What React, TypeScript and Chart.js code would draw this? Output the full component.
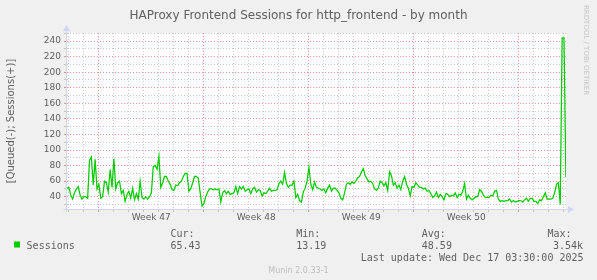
import React, { useEffect, useRef } from 'react';
import { Chart, registerables } from 'chart.js';

Chart.register(...registerables);

// ---------- data ----------
const TITLE = 'HAProxy Frontend Sessions for http_frontend - by month';
const Y_LABEL = '[Queued(-); Sessions(+)]';
const SERIES_NAME = 'Sessions';
// x in days since Sun 16 Nov 2025 00:00
const X_MIN_DAY = -2.112;
const X_MAX_DAY = 31.146;
const STEP_DAYS = 0.125; // 3 hours per sample
const WEEK_START_DAYS = [0, 7, 14, 21, 28];
const WEEK_LABEL_DAYS = [3.5, 10.5, 17.5, 24.5];
const WEEK_LABELS = ['Week 47', 'Week 48', 'Week 49', 'Week 50'];
const Y_MIN = 24.2;
const Y_MAX = 250.4;
const Y_TICKS = [30, 40, 50, 60, 70, 80, 90, 100, 110, 120, 130, 140, 150, 160, 170, 180, 190, 200, 210, 220, 230, 240, 250];
const Y_LABELED = [40, 60, 80, 100, 120, 140, 160, 180, 200, 220, 240];

const SESSIONS = [
  51, 52, 42, 37, 45, 50, 53, 42, 37, 40,
  40, 38, 87, 91, 55, 88, 50, 56, 38, 40,
  60, 58, 46, 75, 52, 89, 50, 58, 60, 44,
  48, 34, 43, 47, 38, 51, 36, 44, 37, 60,
  39, 37, 40, 37, 40, 45, 79, 80, 75, 92,
  52, 58, 66, 66, 60,
  56, 49, 48, 55, 54, 58, 60, 66, 70, 70,
  47, 50, 58, 66, 66, 64, 45, 28, 31, 40,
  46, 50, 50, 49, 50, 49, 50, 33, 45, 48,
  44, 47, 43, 44, 45, 53, 44, 53, 50, 53,
  47, 49, 50, 44, 50, 52, 46, 49, 48, 41,
  45, 44, 47, 51,
  47, 48, 48, 49, 57, 60, 56, 71, 57, 52,
  55, 55, 60, 39, 43, 35, 33, 46, 51, 60,
  78, 56, 49, 59, 52, 51, 50, 48, 50, 45,
  51, 55, 47, 51, 51, 48, 45, 38, 36, 45,
  56, 58, 56, 59, 57, 60, 64, 66, 72, 76,
  67, 63, 59, 60,
  57, 50, 48, 51, 60, 58, 54, 58, 48, 72,
  67, 55, 58, 51, 55, 49, 60, 66, 56, 51,
  41, 53, 52, 58, 55, 52, 52, 50, 51, 47,
  48, 44, 39, 41, 46, 39, 43, 40, 36, 44,
  43, 40, 42, 41, 45, 39, 43, 42, 47, 57,
  37, 42, 38,
  36, 38, 40, 40, 49, 47, 42, 39, 39, 39,
  42, 41, 47, 48, 37, 34, 35, 34, 35, 35,
  37, 33, 35, 33, 34, 35, 35, 33, 36, 38,
  34, 38, 38, 34, 34, 31, 36, 35, 40, 45,
  37, 37, 37, 38, 45, 56, 58, 30, 244, 244,
  65,
];

const LEGEND_HEADS = ['Cur:', 'Min:', 'Avg:', 'Max:'];
const LEGEND_VALUES = ['65.43', '13.19', '48.59', '3.54k'];
const LAST_UPDATE = 'Last update: Wed Dec 17 03:30:00 2025';
const FOOTER = 'Munin 2.0.33-1';
const WATERMARK = 'RRDTOOL / TOBI OETIKER';

// ---------- styles ----------
const BACK = '#f0f0f0';
const CANVAS = '#ffffff';
const TEXT = '#606060';
const FAINT = '#bdbdbd';
const LINE = '#00cc00';
const AXIS = '#cfd6f8';
const GRID = 'rgba(150,150,150,0.5)';
const MGRID = 'rgba(230,60,60,0.55)';
const SANS = '"DejaVu Sans", sans-serif';
const MONO = '"DejaVu Sans Mono", monospace';

const W = 597;
const H = 280;

const decorPlugin = {
  id: 'muninDecor',
  beforeDraw(chart: any) {
    const { ctx, chartArea: a } = chart;
    ctx.save();
    ctx.fillStyle = BACK;
    ctx.fillRect(0, 0, W, H);
    ctx.fillStyle = CANVAS;
    ctx.fillRect(a.left, a.top, a.right - a.left, a.bottom - a.top);
    ctx.restore();
  },
  afterDraw(chart: any) {
    const { ctx, chartArea: a } = chart;
    ctx.save();
    // axes with arrows
    ctx.strokeStyle = AXIS;
    ctx.fillStyle = AXIS;
    ctx.lineWidth = 1;
    const xl = Math.round(a.left) - 0.5;
    const yb = Math.round(a.bottom) + 0.5;
    ctx.beginPath();
    ctx.moveTo(xl - 3, yb);
    ctx.lineTo(a.right + 3, yb);
    ctx.moveTo(xl, yb + 3);
    ctx.lineTo(xl, a.top - 3);
    ctx.stroke();
    ctx.beginPath();
    ctx.moveTo(a.right + 2, yb - 3.5);
    ctx.lineTo(a.right + 8, yb);
    ctx.lineTo(a.right + 2, yb + 3.5);
    ctx.closePath();
    ctx.fill();
    ctx.beginPath();
    ctx.moveTo(xl - 3.5, a.top - 2);
    ctx.lineTo(xl, a.top - 8);
    ctx.lineTo(xl + 3.5, a.top - 2);
    ctx.closePath();
    ctx.fill();

    // title
    ctx.fillStyle = TEXT;
    ctx.textBaseline = 'alphabetic';
    ctx.textAlign = 'center';
    ctx.font = `12px ${SANS}`;
    ctx.fillText(TITLE, 298.5, 18.5);

    // legend
    ctx.fillStyle = LINE;
    ctx.fillRect(14, 241.5, 6, 6);
    ctx.fillStyle = TEXT;
    ctx.font = `10px ${MONO}`;
    ctx.textAlign = 'left';
    ctx.fillText(SERIES_NAME, 26.6, 249);
    const headX = [170.5, 296.2, 421.8, 547.4];
    const valX = [170.5, 296.2, 421.8, 553];
    LEGEND_HEADS.forEach((h, i) => ctx.fillText(h, headX[i], 237));
    LEGEND_VALUES.forEach((v, i) => ctx.fillText(v, valX[i], 249));
    ctx.textAlign = 'right';
    ctx.fillText(LAST_UPDATE, 583.5, 261);

    // footer watermark
    ctx.fillStyle = FAINT;
    ctx.textAlign = 'center';
    ctx.font = `8px ${SANS}`;
    ctx.fillText(FOOTER, 298.5, 272.5);

    // right side credit
    ctx.translate(583.5, 5);
    ctx.rotate(Math.PI / 2);
    ctx.textAlign = 'left';
    ctx.font = `7px ${SANS}`;
    ctx.fillStyle = '#c4c4c4';
    ctx.fillText(WATERMARK, 0, 0);
    ctx.restore();
  },
};

export default function App() {
  const ref = useRef<HTMLCanvasElement | null>(null);

  useEffect(() => {
    if (!ref.current) return;
    Chart.defaults.font.family = SANS;
    const points = SESSIONS.map((v, i) => ({ x: X_MIN_DAY + i * STEP_DAYS, y: v }));
    const chart = new Chart(ref.current, {
      type: 'line',
      data: {
        datasets: [
          {
            label: SERIES_NAME,
            data: points,
            borderColor: LINE,
            backgroundColor: LINE,
            borderWidth: 1.25,
            pointRadius: 0,
            tension: 0,
            fill: false,
          },
        ],
      },
      options: {
        responsive: false,
        devicePixelRatio: 1,
        animation: false,
        events: [],
        layout: { padding: { left: 0, right: 31, top: 33, bottom: 0 } },
        plugins: {
          legend: { display: false },
          tooltip: { enabled: false },
          title: { display: false },
        },
        scales: {
          x: {
            type: 'linear',
            min: X_MIN_DAY,
            max: X_MAX_DAY,
            afterBuildTicks: (s: any) => {
              const t: number[] = [];
              for (let d = Math.ceil(X_MIN_DAY); d <= X_MAX_DAY; d++) t.push(d);
              WEEK_LABEL_DAYS.forEach((d) => t.push(d));
              t.sort((p, q) => p - q);
              s.ticks = t.map((value) => ({ value }));
            },
            afterFit: (s: any) => {
              s.height = H - 209;
            },
            ticks: {
              autoSkip: false,
              maxRotation: 0,
              minRotation: 0,
              padding: 0,
              color: TEXT,
              font: { size: 9, family: SANS },
              callback: (v: any) => {
                const i = WEEK_LABEL_DAYS.indexOf(Number(v));
                return i >= 0 ? WEEK_LABELS[i] : '';
              },
            },
            grid: {
              tickLength: 3,
              lineWidth: 1,
              color: (c: any) => {
                const v = c.tick ? c.tick.value : NaN;
                if (!Number.isInteger(v)) return 'rgba(0,0,0,0)';
                return WEEK_START_DAYS.includes(v) ? MGRID : GRID;
              },
            },
            border: { display: false, dash: [1, 2] },
          },
          y: {
            type: 'linear',
            min: Y_MIN,
            max: Y_MAX,
            afterBuildTicks: (s: any) => {
              s.ticks = Y_TICKS.map((value) => ({ value }));
            },
            afterFit: (s: any) => {
              s.width = 67;
            },
            ticks: {
              autoSkip: false,
              padding: 3,
              color: TEXT,
              font: { size: 9, family: SANS },
              callback: (v: any) => (Y_LABELED.includes(Number(v)) ? String(v) : ''),
            },
            grid: {
              tickLength: 3,
              lineWidth: 1,
              color: (c: any) => {
                const v = c.tick ? c.tick.value : NaN;
                return Y_LABELED.includes(v) ? MGRID : GRID;
              },
            },
            border: { display: false, dash: [1, 2] },
            title: {
              display: true,
              text: Y_LABEL,
              color: TEXT,
              font: { size: 10, family: SANS },
              padding: { top: 5, bottom: 0 },
            },
          },
        },
      },
      plugins: [decorPlugin],
    });
    return () => chart.destroy();
  }, []);

  return (
    <div style={{ position: 'absolute', left: 0, top: 0, width: W, height: H, background: BACK }}>
      <canvas ref={ref} width={W} height={H} style={{ display: 'block', width: W, height: H }} />
    </div>
  );
}
